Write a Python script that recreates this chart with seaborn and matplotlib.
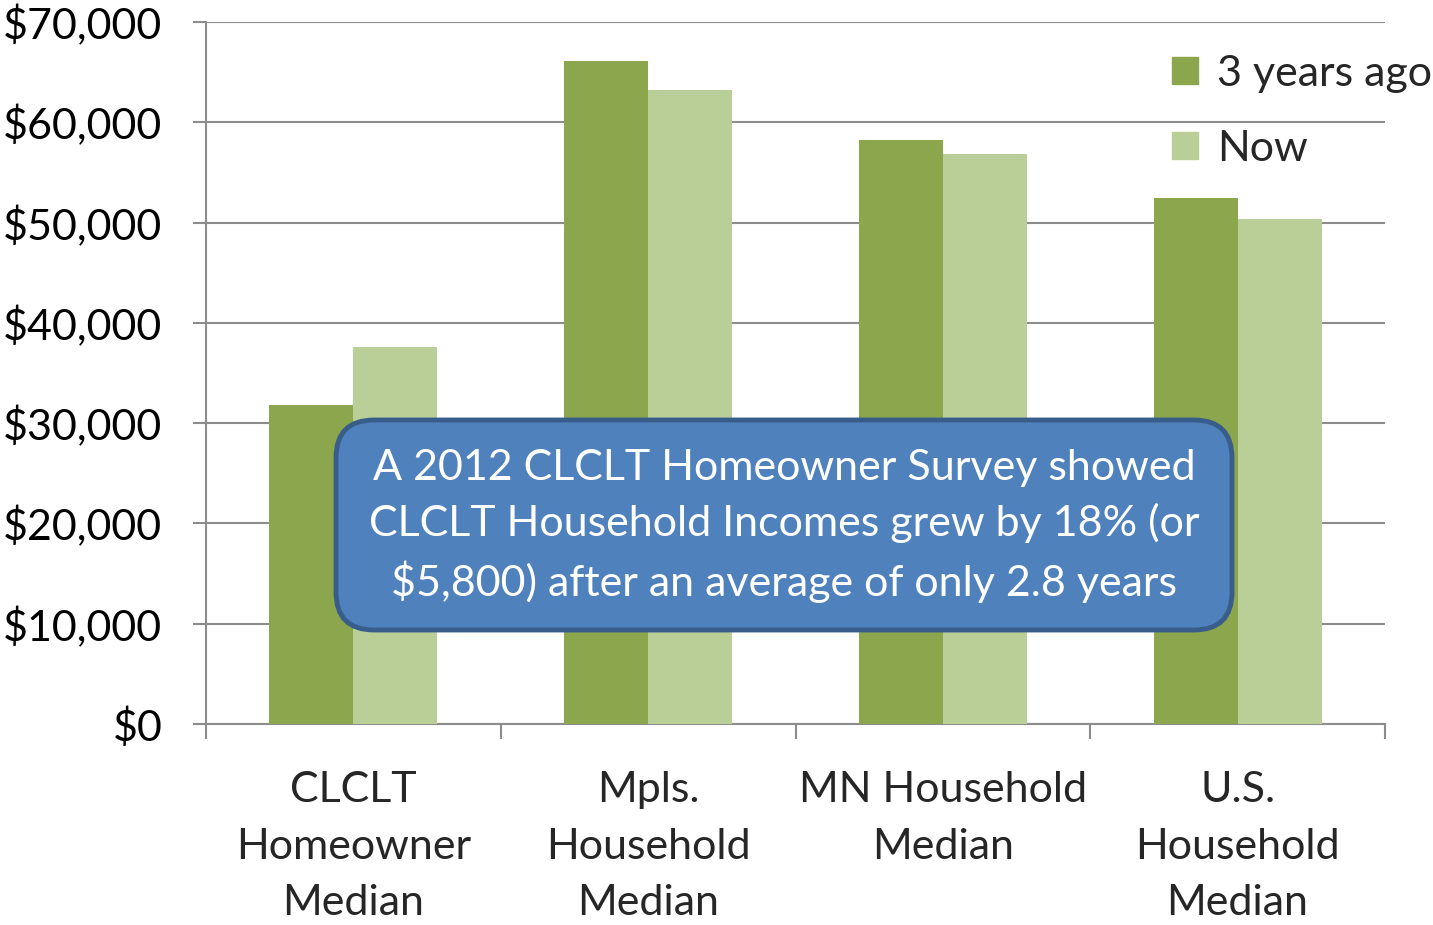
import matplotlib
matplotlib.use("Agg")
import matplotlib.pyplot as plt
from matplotlib.patches import FancyBboxPatch
from matplotlib.transforms import IdentityTransform
from matplotlib.ticker import FuncFormatter, MultipleLocator, FixedLocator
import seaborn as sns
import pandas as pd

categories = ["CLCLT\nHomeowner\nMedian", "Mpls.\nHousehold\nMedian",
              "MN Household\nMedian", "U.S.\nHousehold\nMedian"]
series_names = ["3 years ago", "Now"]
values_3y = [31800, 66100, 58200, 52500]
values_now = [37600, 63200, 56800, 50400]
note_text = ("A 2012 CLCLT Homeowner Survey showed\n"
             "CLCLT Household Incomes grew by 18% (or\n"
             "$5,800) after an average of only 2.8 years")

colors = ["#8BA64D", "#BACF97"]

df = pd.DataFrame({
    "category": categories * 2,
    "series": [series_names[0]] * 4 + [series_names[1]] * 4,
    "value": values_3y + values_now,
})

sns.set_style("white")
plt.rcParams["font.family"] = ["Lato", "DejaVu Sans"]

W, H = 1433, 925
fig = plt.figure(figsize=(W / 100, H / 100), dpi=100)
ax = fig.add_axes([206 / W, 1 - 724 / H, (1385 - 206) / W, (724 - 22) / H])

sns.barplot(data=df, x="category", y="value", hue="series", palette=colors,
            width=0.57, gap=0, linewidth=0, saturation=1, ax=ax, zorder=3,
            legend=True)

ax.set_xlim(-0.5, 3.5)
ax.set_ylim(0, 70000)
ax.yaxis.set_major_locator(MultipleLocator(10000))
ax.yaxis.set_major_formatter(FuncFormatter(lambda v, p: f"${v:,.0f}"))
ax.grid(axis="y", color="#8C8C8C", linewidth=1.5, zorder=0)
ax.set_axisbelow(True)
for s in ["top", "right"]:
    ax.spines[s].set_visible(False)
for s in ["left", "bottom"]:
    ax.spines[s].set_color("#8C8C8C")
    ax.spines[s].set_linewidth(1.5)
ax.set_xlabel("")
ax.set_ylabel("")

fs = 31
ax.tick_params(axis="y", labelsize=fs, length=9.5, width=1.5, color="#8C8C8C",
               pad=22, left=True, labelcolor="black")
ax.xaxis.set_minor_locator(FixedLocator([-0.5, 0.5, 1.5, 2.5, 3.5]))
ax.tick_params(axis="x", which="minor", length=11, width=1.5, color="#8C8C8C",
               bottom=True)
ax.tick_params(axis="x", which="major", length=0, labelsize=fs, pad=34)
for lab in ax.get_xticklabels():
    lab.set_linespacing(1.6)
    lab.set_verticalalignment("top")

ax.get_legend().remove()
handles = [plt.Rectangle((0, 0), 1, 1, color=c) for c in colors]
fig.legend(handles, series_names, loc="upper left",
           bbox_to_anchor=(1172 / W, 1 - 55 / H), frameon=False, fontsize=fs,
           handlelength=0.6, handleheight=0.6, handletextpad=0.45,
           labelspacing=0.85, borderaxespad=0, borderpad=0)

box = FancyBboxPatch((336, H - 630), 1232 - 336, 630 - 420,
                     boxstyle="round,pad=0,rounding_size=38",
                     transform=IdentityTransform(), facecolor="#4F81BD",
                     edgecolor="#385D8A", linewidth=3.5, zorder=10)
fig.patches.append(box)
fig.text(784 / W, 1 - 526 / H, note_text, ha="center", va="center",
         color="white", fontsize=fs, linespacing=1.5, zorder=11)

fig.savefig("out.png", dpi=100)
